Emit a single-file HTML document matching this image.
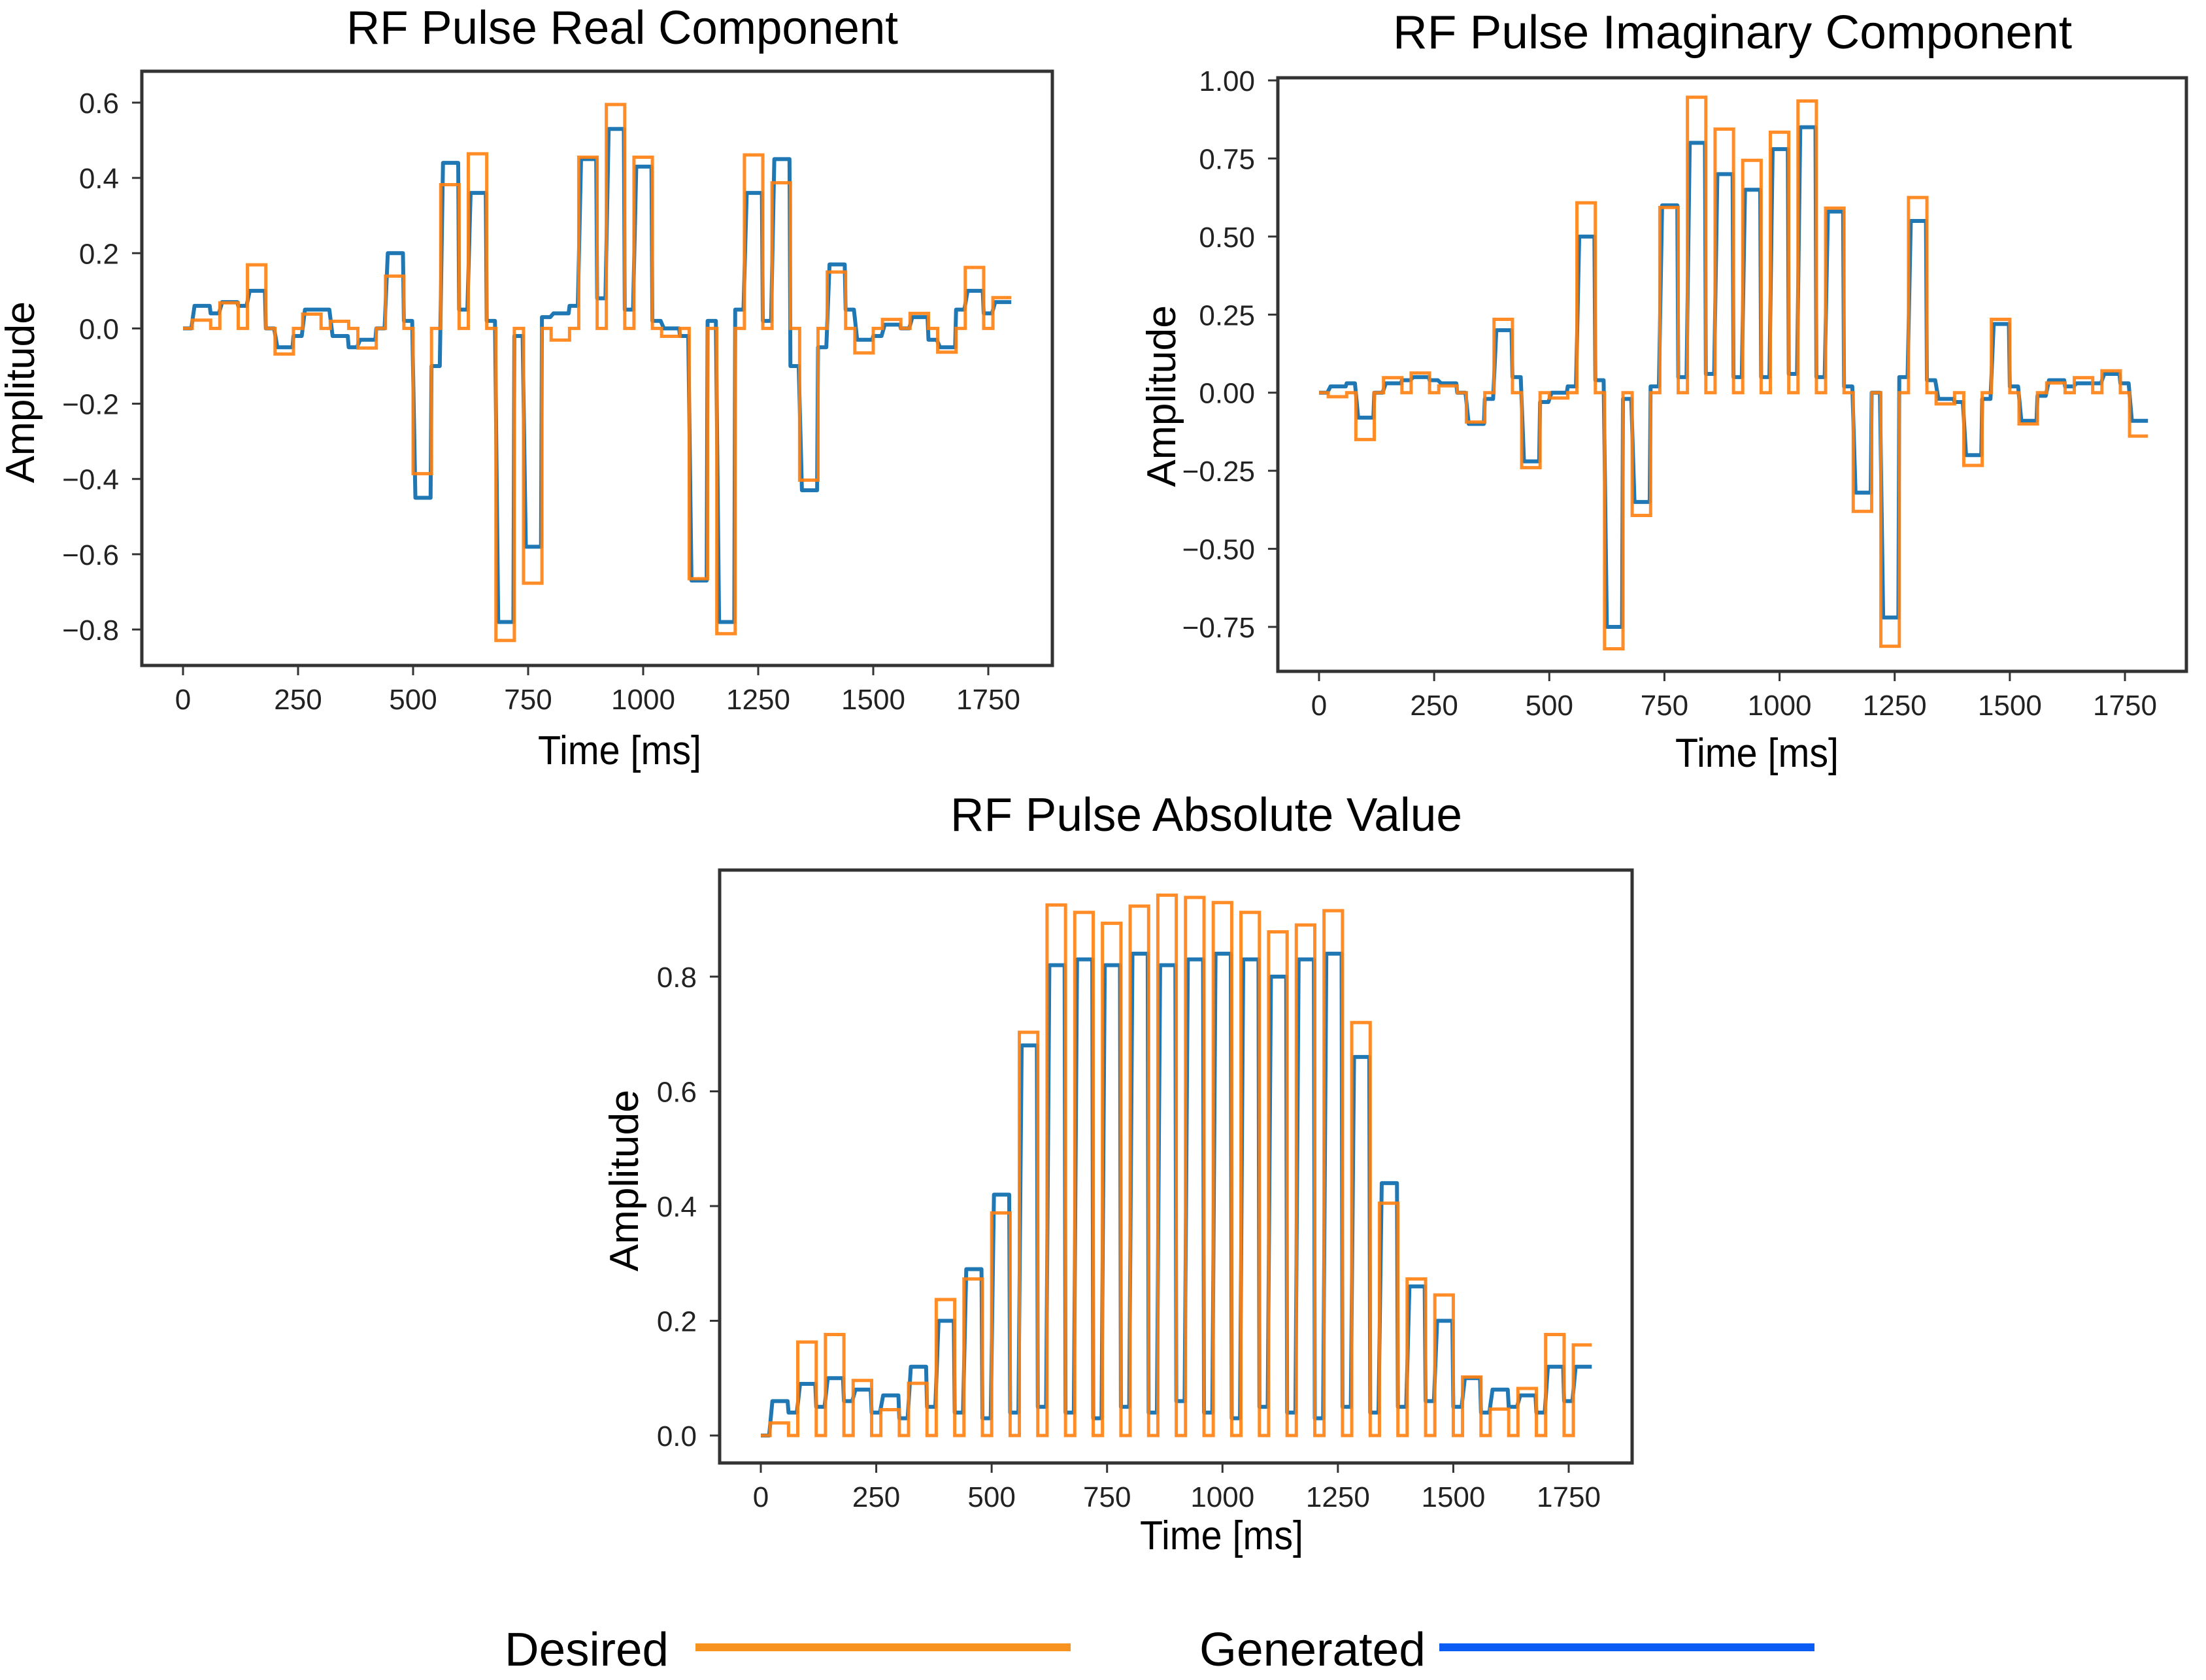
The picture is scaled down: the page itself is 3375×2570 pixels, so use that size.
<!DOCTYPE html>
<html><head><meta charset="utf-8"><style>
html,body{margin:0;padding:0;background:#fff;}
svg{display:block;}
text{font-family:"Liberation Sans",sans-serif;}
</style></head>
<body>
<svg id="fig" width="3375" height="2570" viewBox="0 0 3375 2570" xmlns="http://www.w3.org/2000/svg">
<rect x="0" y="0" width="3375" height="2570" fill="#fff"/>
<g>
  <text x="772" y="2548" font-size="72" textLength="251" lengthAdjust="spacingAndGlyphs">Desired</text>
  <line x1="1064" y1="2520" x2="1638" y2="2520" stroke="#f7931e" stroke-width="12"/>
  <text x="1835" y="2548" font-size="72" textLength="346" lengthAdjust="spacingAndGlyphs">Generated</text>
  <line x1="2202" y1="2520" x2="2776" y2="2520" stroke="#0a5cf5" stroke-width="12"/>
</g>
</svg>
<script>
// ---- data (per 60 ms segment: 20 ms off then 40 ms on) ----
const segmentStarts = [0,60,120,180,240,300,360,420,480,540,600,660,720,780,840,900,960,1020,1080,1140,1200,1260,1320,1380,1440,1500,1560,1620,1680,1740];
const xTicks = [0,250,500,750,1000,1250,1500,1750];

const realDesired = [0.022,0.068,0.169,-0.068,0.038,0.019,-0.052,0.139,-0.386,0.382,0.464,-0.829,-0.677,-0.031,0.455,0.595,0.455,-0.021,-0.665,-0.811,0.461,0.387,-0.403,0.150,-0.065,0.024,0.040,-0.063,0.162,0.082];
const realGenerated = [0.06,0.07,0.10,-0.05,0.05,-0.02,-0.03,0.20,-0.45,0.44,0.36,-0.78,-0.58,0.04,0.45,0.53,0.43,0.00,-0.67,-0.78,0.36,0.45,-0.43,0.17,-0.03,0.01,0.03,-0.05,0.10,0.07];
const realGeneratedGap = [0.00,0.04,0.06,0.00,-0.02,0.05,-0.05,0.00,0.02,-0.10,0.05,0.02,-0.02,0.03,0.06,0.08,0.05,0.02,-0.02,0.02,0.05,0.02,-0.10,-0.05,0.05,-0.02,0.00,-0.03,0.05,0.04];
const realTicks = [0.6,0.4,0.2,0.0,-0.2,-0.4,-0.6,-0.8];
const realTickLabels = ["0.6","0.4","0.2","0.0","\u22120.2","\u22120.4","\u22120.6","\u22120.8"];

const imagDesired = [-0.013,-0.150,0.048,0.063,0.022,-0.094,0.235,-0.240,-0.017,0.608,-0.820,-0.393,0.593,0.946,0.844,0.744,0.834,0.934,0.591,-0.380,-0.812,0.625,-0.036,-0.233,0.235,-0.100,0.031,0.048,0.070,-0.139];
const imagGenerated = [0.02,-0.08,0.03,0.05,0.03,-0.10,0.20,-0.22,0.00,0.50,-0.75,-0.35,0.60,0.80,0.70,0.65,0.78,0.85,0.58,-0.32,-0.72,0.55,-0.02,-0.20,0.22,-0.09,0.04,0.03,0.06,-0.09];
const imagGeneratedGap = [0.00,0.03,0.00,0.04,0.04,0.00,-0.02,0.05,-0.03,0.02,0.04,-0.02,0.02,0.05,0.06,0.05,0.05,0.06,0.05,0.02,0.00,0.05,0.04,-0.03,-0.02,0.02,-0.01,0.02,0.03,0.03];
const imagTicks = [1.00,0.75,0.50,0.25,0.00,-0.25,-0.50,-0.75];
const imagTickLabels = ["1.00","0.75","0.50","0.25","0.00","\u22120.25","\u22120.50","\u22120.75"];

const absDesired = [0.022,0.163,0.176,0.096,0.045,0.091,0.237,0.273,0.388,0.703,0.925,0.912,0.893,0.923,0.942,0.938,0.929,0.912,0.878,0.890,0.915,0.720,0.405,0.273,0.245,0.102,0.046,0.082,0.176,0.158];
const absGenerated = [0.06,0.09,0.10,0.08,0.07,0.12,0.20,0.29,0.42,0.68,0.82,0.83,0.82,0.84,0.82,0.83,0.84,0.83,0.80,0.83,0.84,0.66,0.44,0.26,0.20,0.10,0.08,0.07,0.12,0.12];
const absGeneratedGap = [0.00,0.04,0.05,0.06,0.04,0.03,0.05,0.04,0.03,0.04,0.05,0.04,0.03,0.05,0.04,0.06,0.04,0.03,0.05,0.04,0.03,0.05,0.04,0.05,0.06,0.05,0.04,0.05,0.04,0.06];
const absTicks = [0.0,0.2,0.4,0.6,0.8];
const absTickLabels = ["0.0","0.2","0.4","0.6","0.8"];

const NS = "http://www.w3.org/2000/svg";
const svg = document.getElementById('fig');
function mk(tag, attrs, parent){
  const e = document.createElementNS(NS, tag);
  for (const k in attrs) e.setAttribute(k, attrs[k]);
  (parent || svg).appendChild(e);
  return e;
}

function drawPanel(cfg){
  const g = mk('g', {});
  
  
  const xs = t => cfg.x0 + (t - 0) * (cfg.x1750 - cfg.x0) / 1750;
  const ys = v => cfg.yA + (v - cfg.vA) * (cfg.yB - cfg.yA) / (cfg.vB - cfg.vA);

  // generated (blue)
  let d = 'M' + xs(0) + ' ' + ys(cfg.genGap[0]);
  for (let k = 0; k < segmentStarts.length; k++){
    const t = segmentStarts[k];
    d += ' L' + xs(t) + ' ' + ys(cfg.genGap[k]);
    d += ' L' + xs(t + 18) + ' ' + ys(cfg.genGap[k]);
    d += ' L' + xs(t + 25) + ' ' + ys(cfg.gen[k]);
    d += ' L' + xs(t + 58) + ' ' + ys(cfg.gen[k]);
  }
  d += ' L' + xs(1800) + ' ' + ys(cfg.gen[cfg.gen.length-1]);
  const gp = mk('path', {d: d, fill: 'none', stroke: '#1f77b4', 'stroke-width': 6, 'stroke-linejoin': 'round'}, g);
  
  

  // desired (orange)
  let dd = 'M' + xs(0) + ' ' + ys(0);
  for (let k = 0; k < segmentStarts.length; k++){
    const t = segmentStarts[k];
    dd += ' L' + xs(t + 20) + ' ' + ys(0);
    dd += ' L' + xs(t + 20) + ' ' + ys(cfg.des[k]);
    dd += ' L' + xs(t + 60) + ' ' + ys(cfg.des[k]);
    if (k < segmentStarts.length - 1) dd += ' L' + xs(t + 60) + ' ' + ys(0);
  }
  const dp = mk('path', {d: dd, fill: 'none', stroke: '#ff7f0e', 'stroke-width': 5, 'stroke-opacity': 0.9}, g);
  
  

  // frame
  const fr = mk('rect', {x: cfg.L, y: cfg.T, width: cfg.R - cfg.L, height: cfg.B - cfg.T, fill: 'none', stroke: '#333', 'stroke-width': 5}, g);
  
  

  // x ticks
  for (let i = 0; i < xTicks.length; i++){
    const x = xs(xTicks[i]);
    const tl = mk('line', {x1: x, y1: cfg.B, x2: x, y2: cfg.B + 15, stroke: '#333', 'stroke-width': 3}, g);
    
    
    const tx = mk('text', {x: x, y: cfg.B + 67, 'font-size': 44, 'text-anchor': 'middle', fill: '#222'}, g);
    tx.textContent = String(xTicks[i]);
    
    
  }
  // y ticks
  for (let i = 0; i < cfg.yt.length; i++){
    const y = ys(cfg.yt[i]);
    const tl = mk('line', {x1: cfg.L - 15, y1: y, x2: cfg.L, y2: y, stroke: '#333', 'stroke-width': 3}, g);
    
    
    const tx = mk('text', {x: cfg.L - 35, y: y + 16, 'font-size': 44, 'text-anchor': 'end', fill: '#222'}, g);
    tx.textContent = cfg.ytl[i];
    
    
  }
  // title
  const ti = mk('text', {x: cfg.tx, y: cfg.ty, 'font-size': 72, textLength: cfg.tw, lengthAdjust: 'spacingAndGlyphs'}, g);
  ti.textContent = cfg.title;
  
  
  // x label
  const xl = mk('text', {x: cfg.xlx, y: cfg.xly, 'font-size': 62, textLength: 250, lengthAdjust: 'spacingAndGlyphs'}, g);
  xl.textContent = 'Time [ms]';
  
  
  // y label
  const yl = mk('text', {x: 0, y: 0, 'font-size': 62, 'text-anchor': 'middle', textLength: 278, lengthAdjust: 'spacingAndGlyphs', transform: 'translate(' + cfg.ylx + ',' + cfg.yly + ') rotate(-90)'}, g);
  yl.textContent = 'Amplitude';
  
  
}

drawPanel({name: 'real-component-chart', L: 217, R: 1610, T: 109, B: 1018,
  x0: 280, x1750: 1512, vA: 0.6, yA: 157, vB: -0.8, yB: 963,
  des: realDesired, gen: realGenerated, genGap: realGeneratedGap,
  yt: realTicks, ytl: realTickLabels,
  title: 'RF Pulse Real Component', tx: 530, ty: 67, tw: 844,
  xlx: 823, xly: 1169, ylx: 52, yly: 600});

drawPanel({name: 'imaginary-component-chart', L: 1955, R: 3345, T: 119, B: 1027,
  x0: 2018, x1750: 3251, vA: 1.0, yA: 123, vB: -0.75, yB: 959,
  des: imagDesired, gen: imagGenerated, genGap: imagGeneratedGap,
  yt: imagTicks, ytl: imagTickLabels,
  title: 'RF Pulse Imaginary Component', tx: 2131, ty: 74, tw: 1039,
  xlx: 2563, xly: 1173, ylx: 1798, yly: 606});

drawPanel({name: 'absolute-value-chart', L: 1101, R: 2497, T: 1331, B: 2238,
  x0: 1164, x1750: 2400, vA: 0.0, yA: 2196, vB: 0.8, yB: 1494,
  des: absDesired, gen: absGenerated, genGap: absGeneratedGap,
  yt: absTicks, ytl: absTickLabels,
  title: 'RF Pulse Absolute Value', tx: 1454, ty: 1271, tw: 783,
  xlx: 1744, xly: 2370, ylx: 976, yly: 1806});
</script>
</body></html>
